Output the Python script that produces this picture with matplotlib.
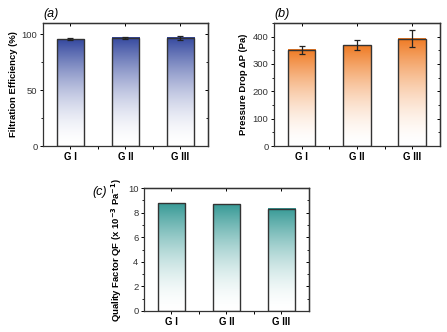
import numpy as np
import matplotlib
matplotlib.use("Agg")
import matplotlib.pyplot as plt
from matplotlib.ticker import MultipleLocator, FixedLocator
from matplotlib.colors import to_rgb

plt.rcParams['font.family'] = ['Liberation Sans', 'DejaVu Sans']
plt.rcParams['mathtext.default'] = 'bf'

groups = ["G I", "G II", "G III"]

efficiency = [95.5, 96.5, 96.5]
efficiency_err = [1.0, 1.2, 2.2]

pressure_drop = [352, 368, 393]
pressure_drop_err = [15, 18, 30]

quality_factor = [8.77, 8.71, 8.33]

fig = plt.figure(figsize=(4.47, 3.32), dpi=100)

ax_a = fig.add_axes([0.0962, 0.560, 0.369, 0.371])
ax_b = fig.add_axes([0.613, 0.560, 0.371, 0.371])
ax_c = fig.add_axes([0.322, 0.0633, 0.369, 0.370])


def gradient_bars(ax, values, color, ylim, errors=None, width=0.5):
    x = np.arange(1, len(values) + 1)
    top = np.array(to_rgb(color))
    n = 256
    t = np.linspace(0, 1, n)[:, None]
    f = t ** 1.7
    img = (1 - f) * np.ones(3) + f * top
    img = img[:, None, :]
    for xi, v in zip(x, values):
        ax.imshow(img, extent=(xi - width / 2, xi + width / 2, 0, v),
                  origin='lower', aspect='auto', zorder=1,
                  interpolation='bilinear')
    ax.bar(x, values, width=width, facecolor='none', edgecolor='#333333',
           linewidth=1.0, zorder=2)
    if errors is not None:
        ax.errorbar(x, values, yerr=errors, fmt='none', ecolor='#222222',
                    elinewidth=0.9, capsize=2.2, capthick=0.9, zorder=3)
    ax.set_xlim(0.5, 3.5)
    ax.set_ylim(*ylim)
    ax.set_xticks(x)
    ax.set_xticklabels(groups, fontweight='bold', fontsize=7)
    ax.xaxis.set_minor_locator(FixedLocator([1.5, 2.5]))
    ax.tick_params(axis='x', which='both', direction='out', length=2.5,
                   width=0.7, top=False, pad=2)
    ax.tick_params(axis='y', which='major', direction='out', length=2.5,
                   width=0.7, labelsize=6.8, pad=1.5, labelcolor='#333333')
    ax.tick_params(axis='y', which='minor', direction='out', length=1.5,
                   width=0.6)
    # inward ticks on the top and right frame
    sec_top = ax.secondary_xaxis('top')
    sec_top.set_xticks(x)
    sec_top.tick_params(direction='in', length=2.5, width=0.7, labeltop=False)
    sec_top.set_xticklabels([])
    sec_right = ax.secondary_yaxis('right')
    sec_right.yaxis.set_major_locator(ax.yaxis.get_major_locator())
    sec_right.yaxis.set_minor_locator(ax.yaxis.get_minor_locator())
    sec_right.tick_params(which='major', direction='in', length=2.5, width=0.7,
                          labelright=False)
    sec_right.tick_params(which='minor', direction='in', length=1.5, width=0.6)
    for s in ax.spines.values():
        s.set_linewidth(0.9)
        s.set_color('#333333')
    for s in sec_top.spines.values():
        s.set_linewidth(0.9)
    for s in sec_right.spines.values():
        s.set_linewidth(0.9)


ax_a.yaxis.set_major_locator(MultipleLocator(50))
ax_a.yaxis.set_minor_locator(MultipleLocator(25))
gradient_bars(ax_a, efficiency, '#34489f', (0, 110), efficiency_err)
ax_a.set_ylabel("Filtration Efficiency (%)", fontweight='bold', fontsize=6.8,
                labelpad=3)
ax_a.text(0.0, 1.02, "(a)", transform=ax_a.transAxes, fontstyle='italic',
          fontsize=9, ha='left', va='bottom')

ax_b.yaxis.set_major_locator(MultipleLocator(100))
ax_b.yaxis.set_minor_locator(MultipleLocator(50))
gradient_bars(ax_b, pressure_drop, '#ef7a22', (0, 450), pressure_drop_err)
ax_b.set_ylabel("Pressure Drop ΔP (Pa)", fontweight='bold', fontsize=6.8,
                labelpad=3)
ax_b.text(0.0, 1.02, "(b)", transform=ax_b.transAxes, fontstyle='italic',
          fontsize=9, ha='left', va='bottom')

ax_c.yaxis.set_major_locator(MultipleLocator(2))
ax_c.yaxis.set_minor_locator(MultipleLocator(1))
gradient_bars(ax_c, quality_factor, '#379a96', (0, 10))
ax_c.set_ylabel("Quality Factor QF (x 10$^{-3}$ Pa$^{-1}$)", fontweight='bold',
                fontsize=6.8, labelpad=3)
ax_c.text(-0.31, 0.97, "(c)", transform=ax_c.transAxes, fontstyle='italic',
          fontsize=9, ha='left', va='center')

fig.savefig("out.png", dpi=100)
